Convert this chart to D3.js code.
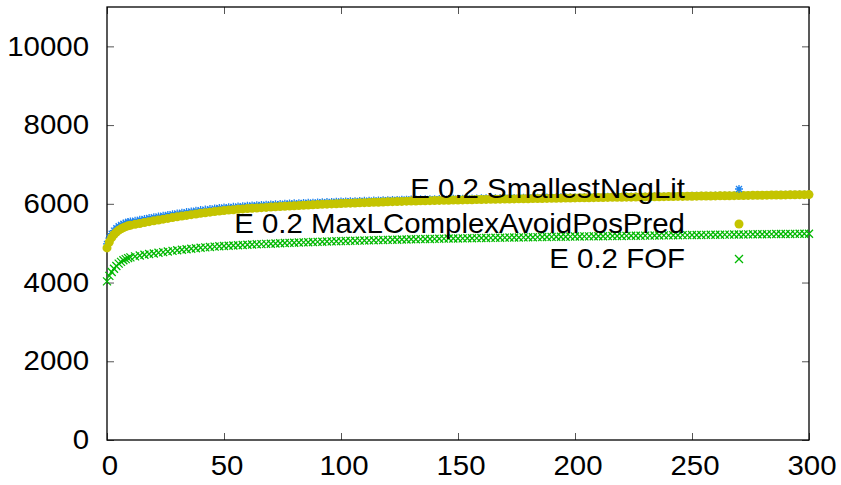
<!DOCTYPE html>
<html>
<head>
<meta charset="utf-8">
<script src="https://cdn.jsdelivr.net/npm/d3@7"></script>
<style>
  body { margin: 0; background: #fff; }
  svg { display: block; }
  text { font-family: "Liberation Sans", Arial, sans-serif; fill: #000; }
</style>
</head>
<body>
<svg id="chart" width="841" height="485"></svg>
<script>
// x positions: every step for the first 10, then every 2nd iteration
const xFirst = [0, 1, 2, 3, 4, 5, 6, 7, 8, 9];
const xRest = d3.range(10, 301, 2);
const xValues = xFirst.concat(xRest);

const smallestNegLit = [
  4980, 5130, 5240, 5320, 5380, 5430, 5465, 5495, 5520, 5540,
  5550, 5572, 5594, 5616, 5638, 5660, 5679, 5698, 5717, 5736,
  5755, 5772, 5789, 5806, 5823, 5840, 5853, 5866, 5879, 5892,
  5905, 5914, 5923, 5932, 5941, 5950, 5956, 5962, 5969, 5975,
  5981, 5987, 5993, 6000, 6006, 6012, 6017, 6021, 6026, 6030,
  6035, 6040, 6044, 6049, 6053, 6058, 6061, 6064, 6067, 6071,
  6075, 6078, 6082, 6085, 6089, 6092, 6095, 6099, 6102, 6106,
  6109, 6110, 6113, 6114, 6116, 6118, 6120, 6122, 6124, 6126,
  6129, 6130, 6133, 6134, 6137, 6139, 6141, 6142, 6144, 6145,
  6147, 6148, 6150, 6151, 6152, 6154, 6155, 6156, 6158, 6159,
  6161, 6163, 6164, 6166, 6168, 6170, 6171, 6172, 6174, 6175,
  6176, 6177, 6179, 6180, 6181, 6182, 6184, 6184, 6186, 6187,
  6189, 6190, 6191, 6193, 6193, 6195, 6197, 6198, 6199, 6201,
  6203, 6203, 6205, 6207, 6207, 6209, 6211, 6212, 6213, 6215,
  6216, 6217, 6219, 6220, 6221, 6223, 6225, 6226, 6227, 6229,
  6231, 6231, 6233, 6235, 6236, 6238
];

const maxLComplex = [
  4880, 5030, 5140, 5220, 5280, 5330, 5365, 5395, 5420, 5440,
  5455, 5478, 5501, 5524, 5547, 5570, 5590, 5610, 5630, 5650,
  5670, 5688, 5706, 5724, 5742, 5760, 5774, 5788, 5802, 5816,
  5830, 5840, 5850, 5860, 5870, 5880, 5887, 5894, 5902, 5909,
  5916, 5923, 5930, 5938, 5945, 5952, 5958, 5963, 5969, 5974,
  5980, 5986, 5991, 5997, 6002, 6008, 6012, 6016, 6020, 6025,
  6029, 6033, 6037, 6041, 6046, 6050, 6054, 6058, 6062, 6067,
  6071, 6073, 6076, 6078, 6081, 6084, 6086, 6089, 6091, 6094,
  6097, 6099, 6102, 6104, 6107, 6110, 6112, 6114, 6116, 6118,
  6120, 6122, 6124, 6126, 6128, 6130, 6132, 6134, 6136, 6138,
  6140, 6142, 6144, 6146, 6148, 6150, 6152, 6153, 6155, 6157,
  6158, 6160, 6162, 6164, 6165, 6167, 6169, 6170, 6172, 6174,
  6176, 6177, 6179, 6181, 6182, 6184, 6186, 6188, 6189, 6191,
  6193, 6194, 6196, 6198, 6199, 6201, 6203, 6205, 6206, 6208,
  6210, 6211, 6213, 6215, 6216, 6218, 6220, 6222, 6223, 6225,
  6227, 6228, 6230, 6232, 6233, 6235
];

const fof = [
  4030, 4170, 4270, 4350, 4420, 4480, 4525, 4565, 4595, 4620,
  4640, 4665, 4688, 4708, 4725, 4740, 4757, 4773, 4790, 4805,
  4820, 4834, 4847, 4860, 4873, 4885, 4894, 4903, 4912, 4921,
  4930, 4936, 4942, 4948, 4954, 4960, 4965, 4971, 4976, 4982,
  4987, 4993, 4998, 5003, 5008, 5013, 5017, 5021, 5025, 5029,
  5033, 5037, 5041, 5045, 5049, 5053, 5056, 5059, 5062, 5065,
  5068, 5071, 5074, 5077, 5080, 5083, 5086, 5089, 5092, 5095,
  5098, 5101, 5104, 5106, 5108, 5110, 5112, 5115, 5117, 5119,
  5121, 5123, 5125, 5127, 5129, 5131, 5133, 5135, 5137, 5139,
  5141, 5143, 5144, 5146, 5148, 5150, 5152, 5154, 5156, 5158,
  5160, 5162, 5164, 5165, 5167, 5169, 5170, 5172, 5173, 5175,
  5176, 5178, 5179, 5181, 5182, 5184, 5186, 5187, 5189, 5190,
  5192, 5193, 5195, 5196, 5198, 5199, 5201, 5202, 5204, 5205,
  5207, 5208, 5210, 5211, 5213, 5214, 5216, 5217, 5218, 5220,
  5221, 5222, 5224, 5225, 5226, 5228, 5229, 5230, 5232, 5233,
  5234, 5235, 5237, 5238, 5239, 5240
];

const seriesNames = ["E 0.2 SmallestNegLit", "E 0.2 MaxLComplexAvoidPosPred", "E 0.2 FOF"];
const xTicks = [0, 50, 100, 150, 200, 250, 300];
const yTicks = [0, 2000, 4000, 6000, 8000, 10000];

const plotLeft = 107, plotRight = 809, plotTop = 7, plotBottom = 440;
const fontSize = 27;
const sx = 1.09; // labels in the picture are a bit wider than the font

const svg = d3.select("#chart");

const x = d3.scaleLinear().domain([0, 300]).range([plotLeft, plotRight]);
const y = d3.scaleLinear().domain([0, 11000]).range([plotBottom, plotTop]);

// ticks, inward, mirrored on top and right
function styleAxis(g) {
  g.select(".domain").remove();
  g.selectAll(".tick line").attr("stroke", "#555").attr("stroke-width", 1);
  g.selectAll("text").style("font-size", fontSize + "px").attr("fill", "#000");
}

svg.append("g")
  .attr("transform", "translate(0," + plotBottom + ")")
  .call(d3.axisBottom(x).tickValues(xTicks).tickFormat(d3.format("d"))
    .tickSizeInner(-7).tickSizeOuter(0).tickPadding(16))
  .call(styleAxis)
  .call(g => g.selectAll("text").attr("transform", "scale(" + sx + ",1)").attr("x", 2.5 / sx));

svg.append("g")
  .attr("transform", "translate(" + plotLeft + ",0)")
  .call(d3.axisLeft(y).tickValues(yTicks).tickFormat(d3.format("d"))
    .tickSizeInner(-7).tickSizeOuter(0).tickPadding(18))
  .call(styleAxis)
  .call(g => g.selectAll("text").attr("transform", "scale(" + sx + ",1)").attr("x", -18 / sx));

svg.append("g")
  .attr("transform", "translate(0," + plotTop + ")")
  .call(d3.axisTop(x).tickValues(xTicks).tickSizeInner(-7).tickSizeOuter(0).tickFormat(""))
  .call(styleAxis);

svg.append("g")
  .attr("transform", "translate(" + plotRight + ",0)")
  .call(d3.axisRight(y).tickValues(yTicks).tickSizeInner(-7).tickSizeOuter(0).tickFormat(""))
  .call(styleAxis);

svg.append("rect")
  .attr("x", plotLeft).attr("y", plotTop)
  .attr("width", plotRight - plotLeft).attr("height", plotBottom - plotTop)
  .attr("fill", "none").attr("stroke", "#000").attr("stroke-width", 1.3);

// markers
const starPath = "M-4,0H4M0,-4V4M-3,-3L3,3M-3,3L3,-3";
const crossPath = "M-4,-4L4,4M-4,4L4,-4";

const series = [
  { name: seriesNames[0], values: smallestNegLit, color: "#1e84f0", kind: "star" },
  { name: seriesNames[1], values: maxLComplex, color: "#c4c400", kind: "dot" },
  { name: seriesNames[2], values: fof, color: "#00b800", kind: "cross" }
];

function drawMarker(sel, s) {
  if (s.kind === "dot") {
    sel.append("circle").attr("r", 4.5).attr("fill", s.color);
  } else {
    sel.append("path")
      .attr("d", s.kind === "star" ? starPath : crossPath)
      .attr("fill", "none").attr("stroke", s.color).attr("stroke-width", 1.3);
  }
}

series.forEach(s => {
  const pts = xValues.map((xv, i) => ({ x: xv, v: s.values[i] }));
  svg.append("g").selectAll("g")
    .data(pts)
    .enter()
    .append("g")
    .attr("transform", d => "translate(" + x(d.x) + "," + y(d.v) + ")")
    .each(function() { drawMarker(d3.select(this), s); });
});

// key
const key = svg.append("g");
series.forEach((s, i) => {
  const ky = 189 + i * 35;
  key.append("text")
    .attr("transform", "translate(685," + ky + ") scale(" + sx + ",1)")
    .attr("dy", "0.32em")
    .attr("text-anchor", "end")
    .style("font-size", fontSize + "px")
    .text(s.name);
  const m = key.append("g").attr("transform", "translate(739," + ky + ")");
  drawMarker(m, s);
});
</script>
</body>
</html>
